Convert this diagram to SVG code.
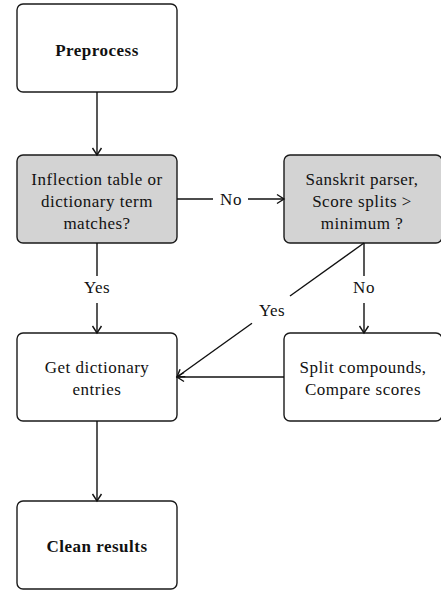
<svg xmlns="http://www.w3.org/2000/svg" width="441" height="592" viewBox="0 0 441 592">
<style>
.box{fill:#ffffff;stroke:#1a1a1a;stroke-width:1.4}
.dec{fill:#d3d3d3;stroke:#1a1a1a;stroke-width:1.4}
text{font-family:"Liberation Serif","DejaVu Serif",serif;font-size:17px;letter-spacing:0.5px;fill:#111;text-anchor:middle}
.b{font-weight:bold}
.edge{fill:none;stroke:#111;stroke-width:1.4}
</style>
<defs>
<marker id="arr" markerUnits="userSpaceOnUse" markerWidth="12" markerHeight="12" viewBox="-9 -6 12 12" refX="0" refY="0" orient="auto">
<path d="M-7,-4.5 L0,0 L-7,4.5" fill="none" stroke="#111" stroke-width="1.4"/>
</marker>
</defs>
<rect width="441" height="592" fill="#fff"/>
<g id="preprocess"><rect class="box" x="17" y="4" width="160" height="88" rx="6"/><text class="b" x="97" y="56">Preprocess</text></g>
<g id="inflection"><rect class="dec" x="17" y="155" width="160" height="88" rx="6"/><text x="97" y="185">Inflection table or</text><text x="97" y="207">dictionary term</text><text x="97" y="229">matches?</text></g>
<g id="sanskrit"><rect class="dec" x="284" y="155" width="158" height="88" rx="6"/><text x="362" y="185">Sanskrit parser,</text><text x="362" y="207">Score splits &gt;</text><text x="362" y="229">minimum ?</text></g>
<g id="getdict"><rect class="box" x="17" y="333" width="160" height="88" rx="6"/><text x="97" y="373">Get dictionary</text><text x="97" y="395">entries</text></g>
<g id="split"><rect class="box" x="284" y="333" width="158" height="88" rx="6"/><text x="363" y="373">Split compounds,</text><text x="363" y="395">Compare scores</text></g>
<g id="clean"><rect class="box" x="17" y="501" width="160" height="88" rx="6"/><text class="b" x="97" y="552">Clean results</text></g>
<g id="connectors">
<line class="edge" x1="97" y1="92" x2="97" y2="155" marker-end="url(#arr)"/>
<line class="edge" x1="177" y1="199" x2="213" y2="199"/>
<text x="231" y="205">No</text>
<line class="edge" x1="248" y1="199" x2="284" y2="199" marker-end="url(#arr)"/>
<line class="edge" x1="97" y1="243" x2="97" y2="276"/>
<text x="97" y="293">Yes</text>
<line class="edge" x1="97" y1="303" x2="97" y2="333" marker-end="url(#arr)"/>
<line class="edge" x1="364" y1="243" x2="364" y2="276"/>
<text x="364" y="293">No</text>
<line class="edge" x1="364" y1="303" x2="364" y2="333" marker-end="url(#arr)"/>
<line class="edge" x1="364" y1="243" x2="290" y2="296"/>
<text x="272" y="316">Yes</text>
<line class="edge" x1="252" y1="323.3" x2="177" y2="377" marker-end="url(#arr)"/>
<line class="edge" x1="284" y1="377" x2="177" y2="377" marker-end="url(#arr)"/>
<line class="edge" x1="97" y1="421" x2="97" y2="501" marker-end="url(#arr)"/>
</g>
</svg>
